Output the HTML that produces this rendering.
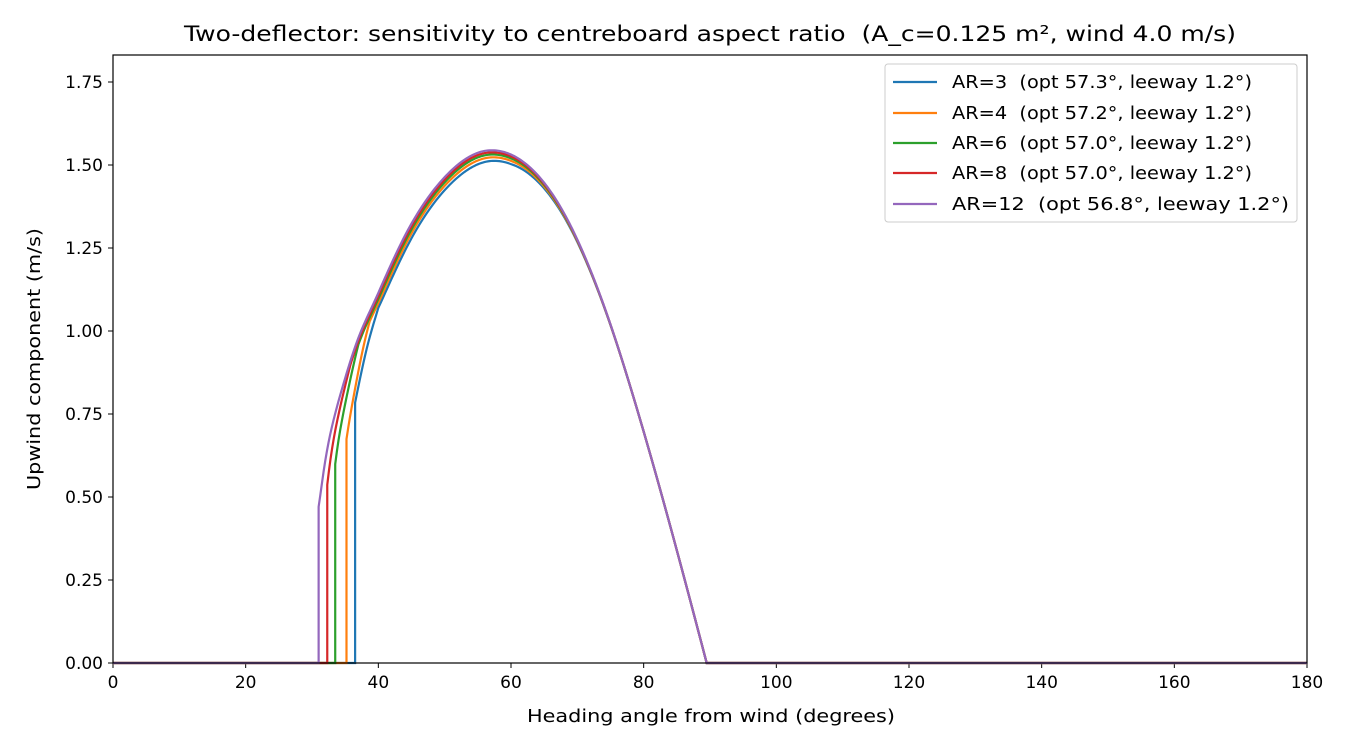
<!DOCTYPE html>
<html><head><meta charset="utf-8"><style>
body{margin:0;background:#fff}
svg{display:block;font-family:"DejaVu Sans","Liberation Sans",sans-serif}
text{white-space:pre}
</style></head><body>
<svg id="s" width="1350" height="750" xmlns="http://www.w3.org/2000/svg">
<rect width="1350" height="750" fill="#fff"/>
<text x="184" y="41" font-size="21.5" textLength="1052" lengthAdjust="spacingAndGlyphs">Two-deflector: sensitivity to centreboard aspect ratio  (A_c=0.125 m², wind 4.0 m/s)</text>
<g id="ticks" font-size="17"></g>
<g id="curves" fill="none" stroke-width="2.2"></g>
<rect x="113" y="55" width="1194" height="608" fill="none" stroke="#000" stroke-width="1.2"/>
<text x="527" y="722" font-size="18" textLength="368" lengthAdjust="spacingAndGlyphs">Heading angle from wind (degrees)</text>
<text transform="translate(40,490) rotate(-90)" font-size="18" textLength="262" lengthAdjust="spacingAndGlyphs">Upwind component (m/s)</text>
<g font-size="18">
<rect x="885" y="64" width="412" height="158" rx="3" fill="#fff" stroke="#ccc"/>
<line x1="893" x2="937" y1="82" y2="82" stroke="#1f77b4" stroke-width="2.2"/><text x="952" y="88" textLength="300" lengthAdjust="spacingAndGlyphs">AR=3  (opt 57.3°, leeway 1.2°)</text>
<line x1="893" x2="937" y1="113" y2="113" stroke="#ff7f0e" stroke-width="2.2"/><text x="952" y="119" textLength="300" lengthAdjust="spacingAndGlyphs">AR=4  (opt 57.2°, leeway 1.2°)</text>
<line x1="893" x2="937" y1="143" y2="143" stroke="#2ca02c" stroke-width="2.2"/><text x="952" y="149" textLength="300" lengthAdjust="spacingAndGlyphs">AR=6  (opt 57.0°, leeway 1.2°)</text>
<line x1="893" x2="937" y1="173" y2="173" stroke="#d62728" stroke-width="2.2"/><text x="952" y="179" textLength="300" lengthAdjust="spacingAndGlyphs">AR=8  (opt 57.0°, leeway 1.2°)</text>
<line x1="893" x2="937" y1="204" y2="204" stroke="#9467bd" stroke-width="2.2"/><text x="952" y="210" textLength="337" lengthAdjust="spacingAndGlyphs">AR=12  (opt 56.8°, leeway 1.2°)</text>
</g>
</svg>
<script>
var X=function(t){return 113+t*1194/180},Y=function(v){return 663-v*332};
var g=document.getElementById('ticks'),h='';
for(var t=0;t<=180;t+=20){var x=X(t);h+='<line x1="'+x+'" x2="'+x+'" y1="663" y2="668" stroke="#000"/><text x="'+x+'" y="688" text-anchor="middle">'+t+'</text>';}
for(var i=0;i<=7;i++){var v=i*0.25,y=Y(v);h+='<line x1="108" x2="113" y1="'+y+'" y2="'+y+'" stroke="#000"/><text x="103" y="'+(y+6)+'" text-anchor="end">'+v.toFixed(2)+'</text>';}
g.innerHTML=h;
var T=[[25,0.1],[30,0.4],[31,0.55],[32,0.72],[33,0.85],[35,1.05],[37,1.23],[40,1.46],[45,1.88],[50,2.29],[57,2.86],[65,3.47],[70,3.8],[75,4.05],[80,4.2],[85,4.3],[90,4.35],[95,4.38]];
function V(t){for(var i=1;i<T.length-2;i++){if(t<=T[i+1][0])break;}
 var p0=T[i-1],p1=T[i],p2=T[i+1],p3=T[i+2];
 var u=(t-p1[0])/(p2[0]-p1[0]);
 var m1=(p2[1]-p0[1])/(p2[0]-p0[0])*(p2[0]-p1[0]),m2=(p3[1]-p1[1])/(p3[0]-p1[0])*(p2[0]-p1[0]);
 var u2=u*u,u3=u2*u;
 return (2*u3-3*u2+1)*p1[1]+(u3-2*u2+u)*m1+(-2*u3+3*u2)*p2[1]+(u3-u2)*m2;}
var S=[["#1f77b4",36.5,0.75,1.5],["#ff7f0e",35.2,0.5,1.9],["#2ca02c",33.5,0.3,1.2],["#d62728",32.3,0.15,0.65],["#9467bd",31,0,0]];
var c='';
S.forEach(function(s){
 var st=s[1],sh=s[2],ex=s[3];
 var p='M'+X(0)+','+Y(0)+' L'+X(st)+','+Y(0);
 for(var t=st;t<=89.5001;t+=0.25){
  var w=t<60?1:(t>80?0:(80-t)/20);
  var e=ex*Math.max(0,1-(t-st)/3.5);
  var u=V(t-sh*w-e)*Math.cos(t*Math.PI/180*90/89.5);
  p+=' L'+X(t).toFixed(2)+','+Y(Math.max(u,0)).toFixed(2);
 }
 p+=' L'+X(89.5)+','+Y(0)+' L'+X(180)+','+Y(0);
 c+='<path d="'+p+'" stroke="'+s[0]+'"/>';
});
document.getElementById('curves').innerHTML=c;
</script>
</body></html>
